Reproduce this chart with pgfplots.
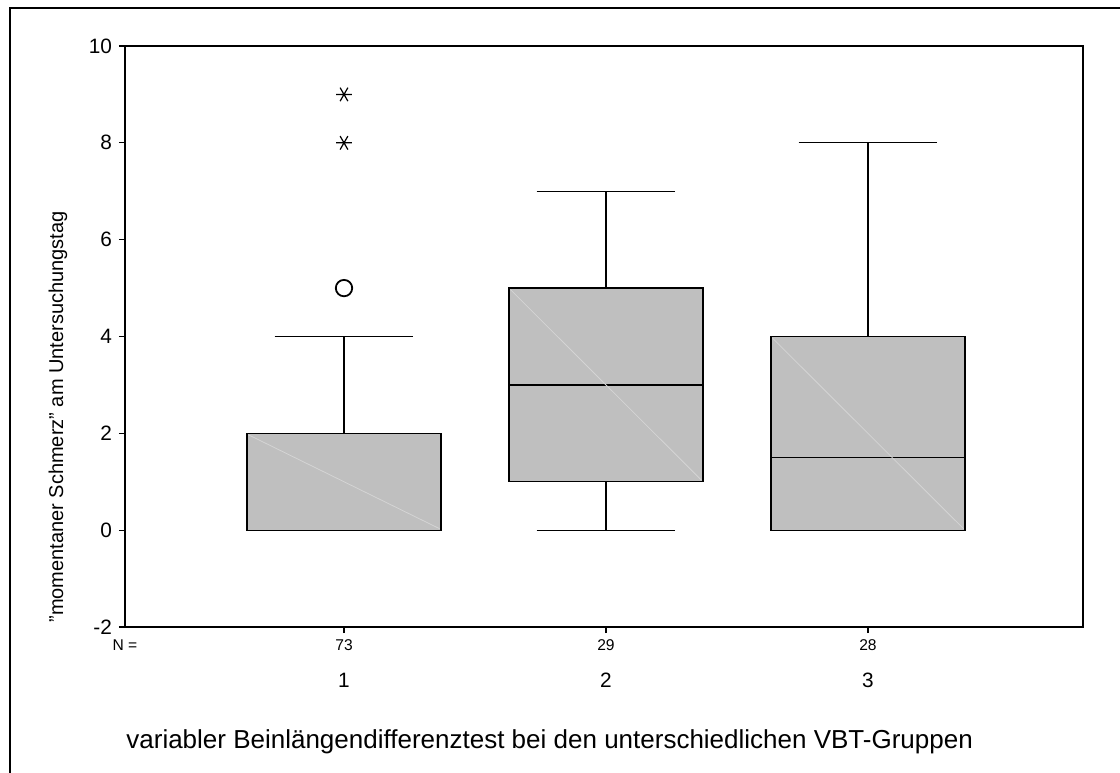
\documentclass[border=0pt]{standalone}
\usepackage{fontspec}
\setmainfont{Liberation Sans}
\usepackage{pgfplots}
\pgfplotsset{compat=1.18}
\usepgfplotslibrary{statistics}

\begin{document}
\begin{tikzpicture}
  % page: 1 px of the reference = 0.5pt
  \useasboundingbox (0,0) rectangle (560pt,386pt);
  \draw[line width=1pt] (4.75pt,-1pt) -- (4.75pt,382pt) -- (561pt,382pt);

  \begin{axis}[
    at={(62.5pt,72.5pt)}, anchor=south west,
    scale only axis,
    width=479pt, height=290.5pt,
    xmin=0.164, xmax=3.821,
    ymin=-2, ymax=10,
    ytick={-2,0,2,4,6,8,10},
    xtick={1,2,3},
    xticklabels={1,2,3},
    tick pos=left,
    tick align=outside,
    major tick length=3pt,
    axis line style={line width=0.65pt},
    tick style={line width=0.65pt, black},
    /pgf/number format/assume math mode=true,
    yticklabel style={font=\fontsize{10.4}{11}\selectfont},
    xticklabel style={font=\fontsize{10.4}{11}\selectfont, yshift=-16.5pt},
    clip=false,
    boxplot/draw direction=y,
    every axis plot/.append style={line width=0.65pt},
  ]
    % boxes
    \addplot[boxplot prepared={draw position=1,
        lower whisker=0, lower quartile=0, median=0,
        upper quartile=2, upper whisker=4,
        box extend=0.74, whisker extend=0.53},
      draw=black, fill=black!25] coordinates {};
    \addplot[boxplot prepared={draw position=2,
        lower whisker=0, lower quartile=1, median=3,
        upper quartile=5, upper whisker=7,
        box extend=0.74, whisker extend=0.53},
      draw=black, fill=black!25] coordinates {};
    \addplot[boxplot prepared={draw position=3,
        lower whisker=0, lower quartile=0, median=1.5,
        upper quartile=4, upper whisker=8,
        box extend=0.74, whisker extend=0.53},
      draw=black, fill=black!25] coordinates {};

    % faint diagonals inside the boxes
    \addplot[draw=black!17, line width=0.4pt] coordinates {(0.635,1.97) (1.365,0.03)};
    \addplot[draw=black!17, line width=0.4pt] coordinates {(1.635,4.97) (2.365,1.03)};
    \addplot[draw=black!17, line width=0.4pt] coordinates {(2.635,3.97) (3.365,0.03)};

    % outliers and extremes of group 1
    \addplot[only marks, mark=o, mark size=4.1pt, mark options={line width=0.9pt, black}]
      coordinates {(1,5)};
    \addplot[only marks, mark=asterisk, mark size=3.9pt, mark options={line width=0.6pt, black, rotate=90}]
      coordinates {(1,8) (1,9)};

    % group sizes
    \node[font=\fontsize{7.8}{8}\selectfont] at (rel axis cs:0,0) [yshift=-9pt] {N =};
    \node[font=\fontsize{7.8}{8}\selectfont] at (axis cs:1,-2) [yshift=-9pt] {73};
    \node[font=\fontsize{7.8}{8}\selectfont] at (axis cs:2,-2) [yshift=-9pt] {29};
    \node[font=\fontsize{7.8}{8}\selectfont] at (axis cs:3,-2) [yshift=-9pt] {28};
  \end{axis}

  \node[rotate=90, anchor=west, inner sep=0pt, font=\fontsize{10}{11}\selectfont]
    at (29pt,74.5pt) {\symbol{34}momentaner Schmerz\symbol{34} am Untersuchungstag};
  \node[anchor=west, inner sep=0pt, font=\fontsize{13}{15}\selectfont]
    at (63pt,15pt) {variabler Beinlängendifferenztest bei den unterschiedlichen VBT-Gruppen};
\end{tikzpicture}
\end{document}
